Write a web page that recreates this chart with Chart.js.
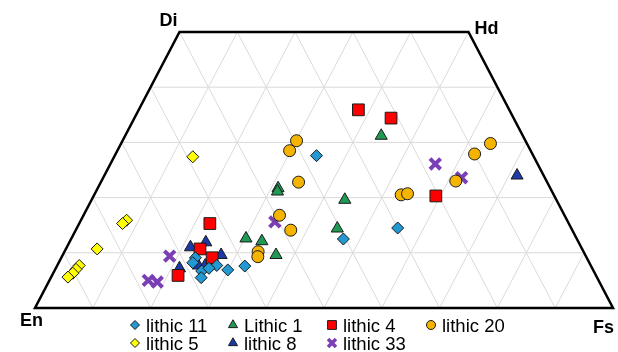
<!DOCTYPE html>
<html>
<head>
<meta charset="utf-8">
<script src="https://cdn.jsdelivr.net/npm/chart.js@4.4.0/dist/chart.umd.min.js"></script>
<style>
  html, body { margin: 0; padding: 0; background: #fff; }
  #wrap { width: 618px; height: 352px; }
</style>
</head>
<body>
<div id="wrap"><canvas id="pyxChart" width="618" height="352"></canvas></div>
<script>
// pyroxene quadrilateral - values are Wo and Fs (mol %), En = 100 - Wo - Fs
const cornerLabels = ['En', 'Fs', 'Di', 'Hd'];
const gridSteps = [10, 20, 30, 40, 50, 60, 70, 80, 90];

const lithic11Wo = [27.6, 14.5, 12.5, 7.6, 6.9, 7.7, 9.1, 6.7, 5.5, 8.2, 7.2];
const lithic11Fs = [34.9, 55.5, 47.1, 32.5, 29.9, 27.6, 23.2, 25.5, 26.0, 23.2, 26.5];

const lithic1Wo = [31.2, 21.7, 21.1, 19.6, 14.4, 12.6, 12.1, 9.6];
const lithic1Fs = [44.3, 31.2, 31.4, 43.8, 45.1, 30.2, 33.2, 36.9];

const lithic4Wo = [35.9, 34.4, 20.3, 15.3, 10.7, 9.1, 5.9];
const lithic4Fs = [38.0, 44.4, 59.2, 22.6, 23.2, 26.1, 21.8];

const lithic20Wo = [30.3, 28.5, 22.8, 20.5, 20.7, 29.8, 27.9, 23.0, 16.8, 14.1, 10.2, 9.3];
const lithic20Fs = [30.1, 29.8, 34.2, 53.1, 54.1, 63.9, 62.1, 61.3, 33.9, 37.2, 33.5, 33.9];

const lithic5Wo = [27.4, 15.9, 15.3, 10.7, 7.7, 7.0, 6.3, 5.6];
const lithic5Fs = [13.6, 7.9, 7.5, 5.4, 3.8, 3.6, 3.4, 2.9];

const lithic8Wo = [11.0, 11.9, 9.6, 7.2, 7.7, 7.7, 7.7, 24.0];
const lithic8Fs = [21.4, 23.6, 27.4, 21.4, 24.4, 25.6, 27.0, 71.4];

const lithic33Wo = [26.1, 23.6, 15.6, 9.4, 5.0, 4.7];
const lithic33Fs = [56.2, 62.0, 33.7, 18.6, 17.1, 18.8];

// ternary -> cartesian (x runs En..Fs along the base, y is Wo)
function toXY(wo, fs) {
    return wo.map((w, i) => ({ x: fs[i] + w / 2, y: w }));
}

function series(label, wo, fs, style, color, radius) {
    const isCross = style === 'crossRot';
    return {
        label: label,
        data: toXY(wo, fs),
        pointStyle: style,
        pointRadius: radius,
        backgroundColor: color,
        borderColor: isCross ? color : '#1a1a1a',
        borderWidth: isCross ? 4 : 1,
        showLine: false,
        clip: false
    };
}

const datasets = [
    series('lithic 11', lithic11Wo, lithic11Fs, 'rectRot', '#2399d3', 6),
    series('Lithic 1', lithic1Wo, lithic1Fs, 'triangle', '#1f9a55', 7),
    series('lithic 4', lithic4Wo, lithic4Fs, 'rect', '#ff0000', 8.3),
    series('lithic 20', lithic20Wo, lithic20Fs, 'circle', '#f5b400', 6),
    series('lithic 5', lithic5Wo, lithic5Fs, 'rectRot', '#ffff00', 6),
    series('lithic 8', lithic8Wo, lithic8Fs, 'triangle', '#1c39a8', 7),
    series('lithic 33', lithic33Wo, lithic33Fs, 'crossRot', '#7a3fb5', 7.5)
];

// grid + outline of the quadrilateral
const ternaryFrame = {
    id: 'ternaryFrame',
    beforeDatasetsDraw(chart) {
        const { ctx, scales: { x, y } } = chart;
        const px = (fs, wo) => x.getPixelForValue(fs + wo / 2);
        const py = wo => y.getPixelForValue(wo);
        const seg = (f1, w1, f2, w2) => {
            ctx.moveTo(px(f1, w1), py(w1));
            ctx.lineTo(px(f2, w2), py(w2));
        };
        ctx.save();
        ctx.strokeStyle = '#dadada';
        ctx.lineWidth = 1;
        ctx.beginPath();
        gridSteps.forEach(g => {
            if (g < 50) seg(0, g, 100 - g, g);          // constant Wo
            const wTop = Math.min(50, 100 - g);
            seg(g, 0, g, wTop);                         // constant Fs
            seg(100 - g, 0, 100 - g - wTop, wTop);      // constant En
        });
        ctx.stroke();

        ctx.strokeStyle = '#000';
        ctx.lineWidth = 2.5;
        ctx.beginPath();
        ctx.moveTo(px(0, 0), py(0));
        ctx.lineTo(px(100, 0), py(0));
        ctx.lineTo(px(50, 50), py(50));
        ctx.lineTo(px(0, 50), py(50));
        ctx.closePath();
        ctx.stroke();
        ctx.restore();
    },
    afterDraw(chart) {
        const { ctx, scales: { x, y } } = chart;
        ctx.save();
        ctx.fillStyle = '#000';
        ctx.font = 'bold 18px "Liberation Sans", Arial, sans-serif';
        // En, Fs, Di, Hd
        ctx.textAlign = 'left';
        ctx.fillText(cornerLabels[0], x.getPixelForValue(0) - 15, y.getPixelForValue(0) + 18);
        ctx.textAlign = 'right';
        ctx.fillText(cornerLabels[1], x.getPixelForValue(100) + 1, y.getPixelForValue(0) + 25);
        ctx.fillText(cornerLabels[2], x.getPixelForValue(25) - 2, y.getPixelForValue(50) - 6);
        ctx.textAlign = 'left';
        ctx.fillText(cornerLabels[3], x.getPixelForValue(75) + 6, y.getPixelForValue(50) + 2);

        // legend, 4 columns x 2 rows
        const colX = [135, 233, 332, 431];
        const rowY = [325, 343];
        ctx.font = '18.5px "Liberation Sans", Arial, sans-serif';
        ctx.textBaseline = 'alphabetic';
        chart.data.datasets.forEach((ds, i) => {
            const cx = colX[i % 4];
            const cy = rowY[Math.floor(i / 4)];
            ctx.fillStyle = ds.backgroundColor;
            ctx.strokeStyle = ds.borderColor;
            ctx.lineWidth = ds.pointStyle === 'crossRot' ? 3.5 : ds.borderWidth;
            Chart.helpers.drawPoint(ctx, {
                pointStyle: ds.pointStyle,
                radius: ds.pointRadius * 0.75,
                rotation: 0,
                borderWidth: ds.borderWidth
            }, cx, cy);
            ctx.fillStyle = '#000';
            ctx.textAlign = 'left';
            ctx.fillText(ds.label, cx + 11, cy + 7);
        });
        ctx.restore();
    }
};

new Chart(document.getElementById('pyxChart').getContext('2d'), {
    type: 'scatter',
    data: { datasets: datasets },
    options: {
        responsive: false,
        animation: false,
        layout: { autoPadding: false, padding: { left: 35, right: 5, top: 32, bottom: 44 } },
        scales: {
            x: { type: 'linear', min: 0, max: 100, display: false },
            y: { type: 'linear', min: 0, max: 50, display: false }
        },
        plugins: {
            legend: { display: false },
            tooltip: { enabled: false }
        }
    },
    plugins: [ternaryFrame]
});
</script>
</body>
</html>
